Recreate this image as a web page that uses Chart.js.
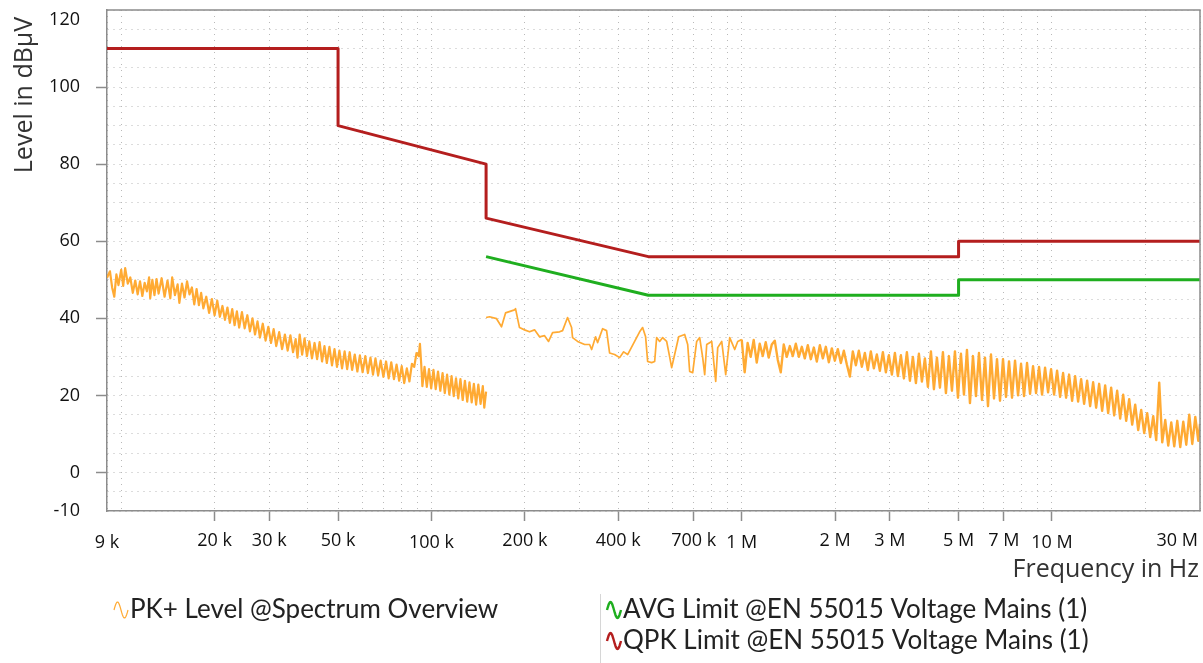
<!DOCTYPE html>
<html>
<head>
<meta charset="utf-8">
<script src="https://cdn.jsdelivr.net/npm/chart.js@4/dist/chart.umd.min.js"></script>
<style>
  html, body { margin: 0; padding: 0; background: #ffffff; }
  #wrap { width: 1203px; height: 663px; position: relative; }
  canvas { display: block; }
</style>
</head>
<body>
<div id="wrap"><canvas id="c" width="1203" height="663"></canvas></div>
<script>
// ---------------- DATA ----------------
const xTickValues = [9e3, 2e4, 3e4, 5e4, 1e5, 2e5, 4e5, 7e5, 1e6, 2e6, 3e6, 5e6, 7e6, 1e7, 3e7];
const xTickLabels = ['9 k', '20 k', '30 k', '50 k', '100 k', '200 k', '400 k', '700 k', '1 M', '2 M', '3 M', '5 M', '7 M', '10 M', '30 M'];
const yTickValues = [-10, 0, 20, 40, 60, 80, 100, 120];

const legendLabels = [
  'PK+ Level @Spectrum Overview',
  'AVG Limit @EN 55015 Voltage Mains (1)',
  'QPK Limit @EN 55015 Voltage Mains (1)'
];

// QPK limit (Hz, dBµV)
const qpkFreq  = [9e3, 5e4, 5e4, 1.5e5, 1.5e5, 5e5, 5e6, 5e6, 3e7];
const qpkLevel = [110, 110, 90, 80, 66, 56, 56, 60, 60];
// AVG limit (Hz, dBµV)
const avgFreq  = [1.5e5, 5e5, 5e6, 5e6, 3e7];
const avgLevel = [56, 46, 46, 50, 50];

// PK+ scan, 9 kHz - 150 kHz  [kHz, dBµV]
const pkScanLow = [
  [9,50.5],[9.2,52.2],[9.35,48.0],[9.5,45.6],[9.65,51.4],[9.8,48.6],[10,52.6],[10.15,48.4],[10.3,53.0],[10.5,49.0],
  [10.7,50.6],[10.9,46.6],[11.1,49.8],[11.3,46.2],[11.5,49.6],[11.7,45.8],[11.9,49.2],[12.1,47.0],[12.3,50.6],[12.4,45.2],
  [12.6,50.0],[12.8,46.0],[13.0,50.2],[13.2,46.4],[13.5,50.4],[13.8,45.6],[14.1,49.8],[14.4,45.2],[14.6,50.6],[14.9,46.0],
  [15.2,48.8],[15.4,44.0],[15.7,49.0],[16.0,45.4],[16.3,49.6],[16.6,46.2],[16.9,48.0],[17.2,43.6],[17.5,47.6],[17.8,43.4],
  [18.1,46.6],[18.4,42.6],[18.8,45.6],[19.2,41.4],[19.6,45.0],[20.0,40.8],[20.4,44.6],[20.8,40.4],[21.2,43.2],[21.6,39.6],
  [22.0,42.8],[22.4,38.8],[22.8,42.4],[23.2,38.2],[23.6,41.8],[24.0,37.6],[24.5,41.6],[25.0,37.4],[25.5,40.8],[26.0,36.6],
  [26.5,40.0],[27.0,35.8],[27.5,39.2],[28.0,35.0],[28.6,38.6],[29.2,34.2],[29.8,37.8],[30.4,33.6],[31.0,37.2],[31.6,32.8],
  [32.3,36.4],[33.0,32.0],[33.7,35.8],[34.4,31.6],[35.1,35.6],[35.8,31.2],[36.5,34.6],[37.0,29.8],[37.6,35.8],[38.3,30.6],
  [39.0,34.8],[39.7,30.2],[40.4,34.0],[41.2,29.6],[42.0,33.6],[42.8,29.4],[43.6,33.8],[44.4,28.8],[45.2,32.8],[46.0,28.4],
  [46.9,32.6],[47.8,27.8],[48.7,32.0],[49.6,27.4],[50.5,31.6],[51.5,27.0],[52.5,31.4],[53.5,26.8],[54.5,31.2],[55.5,26.6],
  [56.6,30.6],[57.7,26.2],[58.8,30.4],[60.0,26.0],[61.2,30.2],[62.4,25.8],[63.6,29.8],[64.8,25.4],[66.0,29.6],[67.3,25.2],
  [68.6,29.0],[70.0,24.8],[71.4,28.8],[72.8,24.4],[74.2,28.6],[75.7,24.2],[77.2,28.0],[78.7,23.8],[80.2,27.6],[81.7,23.2],
  [83.3,27.0],[84.9,23.6],[86.5,28.2],[88.0,27.4],[89.5,31.0],[91.0,30.2],[91.8,33.4],[92.6,28.6],[93.5,22.4],[95.0,27.4],
  [96.6,22.2],[98.2,26.8],[99.8,21.8],[101.5,26.6],[103.2,21.6],[105.0,26.2],[106.8,21.2],[108.6,25.8],[110.4,20.6],[112.3,25.4],
  [114.2,20.2],[116.1,25.0],[118.0,19.8],[120.0,24.4],[122.0,19.2],[124.0,24.2],[126.1,18.8],[128.2,23.8],[130.4,18.4],[132.6,23.4],
  [134.8,18.2],[137.0,23.0],[139.3,17.6],[141.6,22.8],[144.0,17.8],[146.4,22.4],[148.0,16.8],[150.0,21.0]
];

// PK+ scan, 150 kHz - 30 MHz  [kHz, dBµV]
const pkScanHigh = [
  [150,40.2],[153.9,40.4],[162.1,39.9],[168.2,37.8],[173.3,41.4],[185.3,42.2],[186.6,42.5],[192.2,37.6],[199.5,37.0],[207.1,36.5],
  [214.9,37.0],[223.0,35.2],[231.5,35.5],[238.5,34.0],[245.7,36.3],[258.8,36.5],[264.6,36.8],[274.6,40.2],[282.9,37.6],[285.0,35.0],
  [295.8,34.0],[311.7,33.2],[323.4,33.2],[328.3,31.9],[338.1,35.2],[343.1,33.7],[356.1,37.3],[366.8,36.8],[375.1,31.0],[389.3,30.6],
  [404.2,29.8],[416.4,31.3],[428.9,30.6],[451.7,34.0],[468.8,36.5],[479.3,37.6],[490.1,35.2],[497.5,28.8],[512.5,28.5],[524.1,28.8],
  [531.9,35.0],[543.9,34.0],[556.2,35.0],[572.9,34.0],[585.8,30.0],[594.6,27.2],[608.0,30.6],[626.4,35.2],[654.9,35.8],[669.7,33.2],
  [679.7,26.2],[695.0,25.9],[715.9,34.0],[732.1,35.0],[748.6,29.8],[759.8,25.4],[771.3,33.2],[800.4,34.0],[824.5,23.6],[836.9,32.4],
  [862.1,34.0],[888.1,25.4],[914.9,35.0],[949.4,31.9],[970.8,34.0],
  [1000,34.5],[1022,26.0],[1045,33.6],[1069,30.0],[1093,34.4],[1118,28.5],[1143,33.4],[1169,30.2],[1195,33.8],[1222,29.8],
  [1250,33.2],[1278,34.2],[1307,29.2],[1336,26.0],[1366,33.2],[1397,30.0],[1429,32.8],[1461,30.2],[1494,33.4],[1528,30.0],
  [1562,32.6],[1597,29.6],[1633,33.0],[1670,29.4],[1708,32.4],[1746,28.8],[1786,33.0],[1826,29.6],[1867,32.6],[1909,28.6],
  [1952,32.2],[1996,29.0],[2041,32.0],[2087,28.4],[2134,31.6],[2182,28.0],[2231,24.9],[2281,31.4],[2333,27.8],[2385,31.6],
  [2439,27.4],[2494,31.0],[2550,26.6],[2607,31.4],[2666,27.0],[2726,30.6],[2788,26.4],[2851,31.2],[2915,26.0],[2981,30.4],
  [3048,25.4],[3117,31.0],[3187,25.0],[3259,30.4],[3332,24.4],[3407,31.2],[3484,23.8],[3562,30.0],[3643,23.2],[3725,30.8],
  [3809,23.6],[3894,29.6],[3982,22.2],[4072,31.4],[4164,21.6],[4258,29.8],[4354,22.0],[4452,31.2],[4552,20.6],[4655,30.2],
  [4760,21.2],[4867,31.4],[4977,19.4],[5089,30.8],[5204,20.2],[5321,31.8],[5441,18.0],[5564,30.2],[5689,19.8],[5817,31.0],
  [5949,18.8],[6083,29.8],[6220,17.2],[6360,30.6],[6504,19.2],[6650,29.4],[6800,18.6],[6953,29.4],[7110,19.6],[7271,28.8],
  [7435,19.4],[7602,29.0],[7774,20.0],[7949,28.2],[8128,19.8],[8311,28.4],[8499,20.4],[8690,27.6],[8886,20.6],[9086,27.4],
  [9291,20.2],[9501,27.2],[9715,20.8],[9934,26.8],[10158,20.2],[10387,26.4],[10621,19.6],[10860,25.8],[11105,19.4],[11356,25.4],
  [11612,18.6],[11873,25.0],[12141,18.4],[12415,24.2],[12695,17.8],[12981,23.8],[13274,17.2],[13573,23.4],[13879,16.8],[14192,23.0],
  [14512,16.0],[14839,22.6],[15174,15.4],[15516,22.0],[15866,14.8],[16224,21.2],[16589,14.0],[16964,20.2],[17346,13.4],[17737,19.0],
  [18137,12.4],[18546,17.6],[18964,11.0],[19392,16.2],[19829,10.2],[20276,15.4],[20733,9.2],[21201,14.6],[21679,8.4],[22168,23.3],
  [22668,7.8],[23179,13.6],[23701,7.0],[24236,13.0],[24782,6.8],[25341,13.4],[25912,6.6],[26497,13.2],[27094,7.2],[27705,15.0],
  [28330,7.4],[28969,14.4],[29622,8.2],[30000,12.6]
];

// ---------------- STYLE ----------------
const COL_PK = '#ffaa33';
const COL_AVG = '#1fae1f';
const COL_QPK = '#b41e1e';
const GRID_COL = '#b9b9b9';
const AXIS_COL = '#8c8c8c';
const TICK_FONT = '18px "Open Sans", "Noto Sans", sans-serif';
const TITLE_FONT = '25px "Open Sans", "Noto Sans", sans-serif';
const LEGEND_FONT = '26px Lato, "Noto Sans", sans-serif';

const toPts = (fs, ls) => fs.map((f, i) => ({x: f, y: ls[i]}));
const khzPts = arr => arr.map(p => ({x: p[0] * 1000, y: p[1]}));

const isLabeledX = v => xTickValues.slice(1, -1).some(t => Math.abs(t - v) / t < 1e-6);
const isLabeledY = v => yTickValues.slice(1, -1).includes(v);

// log grid ticks at 1..9 x 10^n between 9 kHz and 30 MHz
function logGrid() {
  const out = [9e3];
  for (let e = 4; e <= 7; e++) {
    for (let m = 1; m <= 9; m++) {
      const v = m * Math.pow(10, e);
      if (v > 9e3 && v <= 3e7) out.push(v);
    }
  }
  return out;
}

const decorPlugin = {
  id: 'decor',
  afterDraw(chart) {
    const ctx = chart.ctx;
    const ca = chart.chartArea;
    const xs = chart.scales.x, ys = chart.scales.y;
    ctx.save();
    // top & right frame
    ctx.strokeStyle = AXIS_COL;
    ctx.lineWidth = 1.5;
    ctx.beginPath();
    ctx.moveTo(ca.left, ca.top);
    ctx.lineTo(ca.right, ca.top);
    ctx.lineTo(ca.right, ca.bottom);
    ctx.stroke();

    // y tick labels
    ctx.fillStyle = '#111111';
    ctx.font = TICK_FONT;
    ctx.textAlign = 'right';
    ctx.textBaseline = 'middle';
    yTickValues.forEach(v => {
      let py = ys.getPixelForValue(v);
      py = Math.max(py, ca.top + 10);
      ctx.fillText(String(v), ca.left - 27, py);
    });

    // x tick labels
    ctx.textAlign = 'center';
    xTickValues.forEach((v, i) => {
      const lbl = xTickLabels[i];
      const w = ctx.measureText(lbl).width;
      let px = xs.getPixelForValue(v);
      px = Math.min(px, chart.width - 5 - w / 2);
      const decade = Math.abs(Math.log10(v) - Math.round(Math.log10(v))) < 1e-9;
      const py = (decade || i === 0) ? ca.bottom + 32 : ca.bottom + 30;
      ctx.fillText(lbl, px, py);
    });

    // axis titles
    ctx.fillStyle = '#333333';
    ctx.font = TITLE_FONT;
    ctx.textAlign = 'right';
    ctx.fillText('Frequency in Hz', chart.width - 4, 570);
    ctx.save();
    ctx.translate(25, 95);
    ctx.rotate(-Math.PI / 2);
    ctx.textAlign = 'center';
    ctx.fillText('Level in dB\u00b5V', 0, 0);
    ctx.restore();

    // legend
    const sine = (x, y, color, lw) => {
      ctx.save();
      ctx.strokeStyle = color;
      ctx.lineWidth = lw;
      ctx.lineJoin = 'round';
      ctx.beginPath();
      for (let k = 0; k <= 20; k++) {
        const t = k / 20;
        const px = x + t * 14;
        const pyy = y - Math.sin(t * 2 * Math.PI) * 8;
        if (k) ctx.lineTo(px, pyy); else ctx.moveTo(px, pyy);
      }
      ctx.stroke();
      ctx.restore();
    };
    ctx.font = LEGEND_FONT;
    ctx.fillStyle = '#222222';
    ctx.textAlign = 'left';
    ctx.textBaseline = 'middle';
    sine(114, 610, COL_PK, 1.2);
    ctx.fillText(legendLabels[0], 130, 610);
    sine(607, 610, COL_AVG, 2.4);
    ctx.fillText(legendLabels[1], 623, 610);
    sine(607, 641, COL_QPK, 2.4);
    ctx.fillText(legendLabels[2], 623, 641);
    // separator
    ctx.strokeStyle = '#d6d6d6';
    ctx.lineWidth = 1;
    ctx.beginPath();
    ctx.moveTo(600.5, 594);
    ctx.lineTo(600.5, 663);
    ctx.stroke();
    ctx.restore();
  }
};

new Chart(document.getElementById('c'), {
  type: 'line',
  data: {
    datasets: [
      { label: legendLabels[2], data: toPts(qpkFreq, qpkLevel), borderColor: COL_QPK, borderWidth: 3 },
      { label: legendLabels[1], data: toPts(avgFreq, avgLevel), borderColor: COL_AVG, borderWidth: 3 },
      { label: legendLabels[0], data: khzPts(pkScanLow), borderColor: COL_PK, borderWidth: 2.2 },
      { label: legendLabels[0], data: khzPts(pkScanHigh), borderColor: COL_PK, borderWidth: 1.7,
        segment: { borderWidth: c => (c.p0.parsed.x >= 1e6 ? 2.4 : 1.7) } }
    ]
  },
  options: {
    responsive: false,
    animation: false,
    devicePixelRatio: 1,
    parsing: true,
    normalized: true,
    elements: {
      point: { radius: 0, hoverRadius: 0 },
      line: { tension: 0, fill: false, borderJoinStyle: 'round' }
    },
    layout: { padding: { left: 0, right: 3, top: 10, bottom: 0 } },
    plugins: { legend: { display: false }, tooltip: { enabled: false }, title: { display: false } },
    scales: {
      x: {
        type: 'logarithmic',
        min: 9e3,
        max: 3e7,
        afterBuildTicks: s => { s.ticks = logGrid().map(v => ({ value: v })); },
        afterFit: s => { s.height = 152; },
        ticks: { display: false, autoSkip: false },
        grid: {
          color: GRID_COL,
          lineWidth: 1,
          drawTicks: true,
          tickLength: 10,
          tickWidth: 1.5,
          tickColor: c => (c.tick && isLabeledX(c.tick.value)) ? AXIS_COL : 'rgba(0,0,0,0)'
        },
        border: { display: true, color: AXIS_COL, width: 1.5, dash: [1, 5] }
      },
      y: {
        type: 'linear',
        min: -10,
        max: 120,
        ticks: { display: false, stepSize: 5 },
        afterFit: s => { s.width = 107; },
        grid: {
          color: GRID_COL,
          lineWidth: 1,
          drawTicks: true,
          tickLength: 11,
          tickWidth: 1.5,
          tickColor: c => (c.tick && isLabeledY(c.tick.value)) ? AXIS_COL : 'rgba(0,0,0,0)'
        },
        border: { display: true, color: AXIS_COL, width: 1.5, dash: [1, 5] }
      }
    }
  },
  plugins: [decorPlugin]
});
</script>
</body>
</html>
